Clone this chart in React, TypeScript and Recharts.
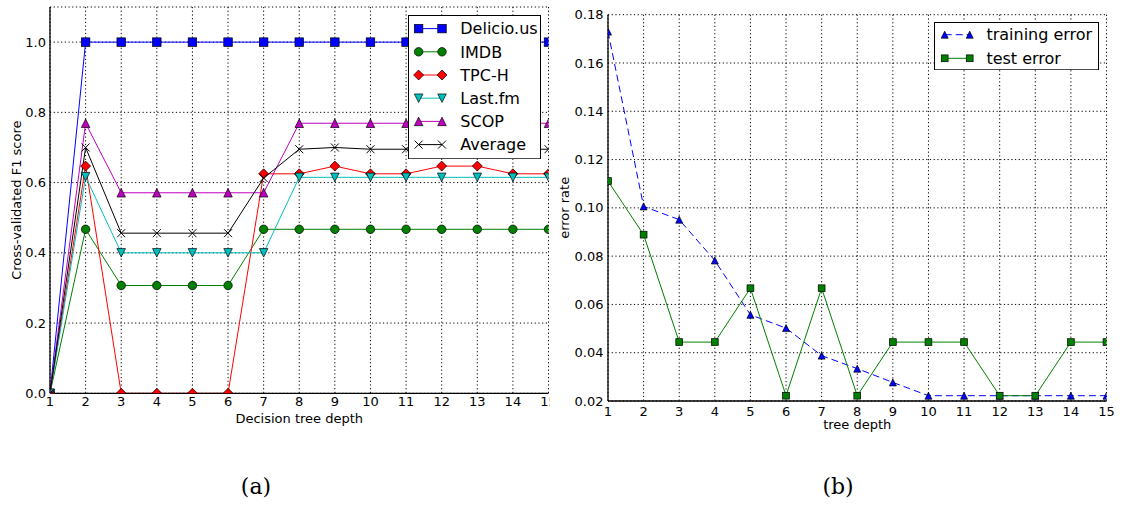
import React from 'react';
import { LineChart, Line, XAxis, YAxis, CartesianGrid, Legend } from 'recharts';

// ---------- data: left panel (a) ----------
const depths = [1, 2, 3, 4, 5, 6, 7, 8, 9, 10, 11, 12, 13, 14, 15];
const delicious = [0, 1, 1, 1, 1, 1, 1, 1, 1, 1, 1, 1, 1, 1, 1];
const imdb = [0, 0.467, 0.307, 0.307, 0.307, 0.307, 0.467, 0.467, 0.467, 0.467, 0.467, 0.467, 0.467, 0.467, 0.467];
const tpch = [0, 0.647, 0, 0, 0, 0, 0.625, 0.625, 0.647, 0.625, 0.625, 0.647, 0.647, 0.625, 0.625];
const lastfm = [0, 0.617, 0.4, 0.4, 0.4, 0.4, 0.4, 0.615, 0.615, 0.615, 0.615, 0.615, 0.615, 0.615, 0.615];
const scop = [0, 0.769, 0.571, 0.571, 0.571, 0.571, 0.571, 0.769, 0.769, 0.769, 0.769, 0.769, 0.769, 0.769, 0.769];
const average = [0, 0.7, 0.456, 0.456, 0.456, 0.456, 0.613, 0.695, 0.7, 0.695, 0.695, 0.7, 0.7, 0.695, 0.695];
const leftYTicks = [0, 0.2, 0.4, 0.6, 0.8, 1.0];

// ---------- data: right panel (b) ----------
const trainingError = [0.173, 0.1006, 0.0951, 0.0782, 0.0557, 0.0502, 0.0388, 0.0334, 0.0277, 0.0222, 0.0222, 0.0222, 0.0222, 0.0222, 0.0222];
const testError = [0.1111, 0.0889, 0.0444, 0.0444, 0.0667, 0.0222, 0.0667, 0.0222, 0.0444, 0.0444, 0.0444, 0.0222, 0.0222, 0.0444, 0.0444];
const rightYTicks = [0.02, 0.04, 0.06, 0.08, 0.1, 0.12, 0.14, 0.16, 0.18];

const leftData = depths.map((d, i) => ({
  depth: d,
  delicious: delicious[i],
  imdb: imdb[i],
  tpch: tpch[i],
  lastfm: lastfm[i],
  scop: scop[i],
  average: average[i],
}));
const rightData = depths.map((d, i) => ({ depth: d, train: trainingError[i], test: testError[i] }));

type Shape = 'square' | 'circle' | 'diamond' | 'triUp' | 'triDown' | 'x';

const FONT = '"DejaVu Sans", sans-serif';

function Marker({ shape, cx, cy, s, fill }: { shape: Shape; cx: number; cy: number; s: number; fill: string }) {
  const h = s / 2;
  const sw = 0.7;
  switch (shape) {
    case 'square':
      return <rect x={cx - h} y={cy - h} width={s} height={s} fill={fill} stroke="#000" strokeWidth={sw} />;
    case 'circle':
      return <circle cx={cx} cy={cy} r={h} fill={fill} stroke="#000" strokeWidth={sw} />;
    case 'diamond':
      return (
        <polygon
          points={`${cx},${cy - h} ${cx + h},${cy} ${cx},${cy + h} ${cx - h},${cy}`}
          fill={fill}
          stroke="#000"
          strokeWidth={sw}
        />
      );
    case 'triUp':
      return (
        <polygon
          points={`${cx},${cy - h} ${cx + h},${cy + h} ${cx - h},${cy + h}`}
          fill={fill}
          stroke="#000"
          strokeWidth={sw}
        />
      );
    case 'triDown':
      return (
        <polygon
          points={`${cx},${cy + h} ${cx + h},${cy - h} ${cx - h},${cy - h}`}
          fill={fill}
          stroke="#000"
          strokeWidth={sw}
        />
      );
    case 'x':
    default:
      return (
        <g stroke={fill} strokeWidth={1}>
          <line x1={cx - h} y1={cy - h} x2={cx + h} y2={cy + h} />
          <line x1={cx - h} y1={cy + h} x2={cx + h} y2={cy - h} />
        </g>
      );
  }
}

const leftSeries: { key: string; name: string; color: string; shape: Shape; size: number }[] = [
  { key: 'delicious', name: 'Delicio.us', color: '#0000ff', shape: 'square', size: 8.5 },
  { key: 'imdb', name: 'IMDB', color: '#008000', shape: 'circle', size: 8.5 },
  { key: 'tpch', name: 'TPC-H', color: '#ff0000', shape: 'diamond', size: 10 },
  { key: 'lastfm', name: 'Last.fm', color: '#00bfbf', shape: 'triDown', size: 8.5 },
  { key: 'scop', name: 'SCOP', color: '#bf00bf', shape: 'triUp', size: 8.5 },
  { key: 'average', name: 'Average', color: '#000000', shape: 'x', size: 8 },
];

const rightSeries: { key: string; name: string; color: string; shape: Shape; size: number; dash?: string }[] = [
  { key: 'train', name: 'training error', color: '#0000ff', shape: 'triUp', size: 7, dash: '7 4' },
  { key: 'test', name: 'test error', color: '#008000', shape: 'square', size: 6.8 },
];

const tickStyle = { fontSize: 13, fill: '#000', fontFamily: FONT };

function LeftLegend() {
  const w = 133;
  const h = 144.3;
  return (
    <svg width={w} height={h} style={{ display: 'block' }}>
      <rect x={0.5} y={0.5} width={w - 1} height={h - 1} fill="#fff" stroke="#000" strokeWidth={1} />
      {leftSeries.map((s, i) => {
        const y = 13.6 + 23.2 * i;
        return (
          <g key={s.key}>
            <line x1={10.6} y1={y} x2={34} y2={y} stroke={s.color} strokeWidth={1} />
            <Marker shape={s.shape} cx={10.6} cy={y} s={s.size} fill={s.color} />
            <Marker shape={s.shape} cx={34} cy={y} s={s.size} fill={s.color} />
            <text x={52.3} y={y} dy="0.36em" fontSize={16} fontFamily={FONT} fill="#000">
              {s.name}
            </text>
          </g>
        );
      })}
    </svg>
  );
}

function RightLegend() {
  const w = 165;
  const h = 48.3;
  return (
    <svg width={w} height={h} style={{ display: 'block' }}>
      <rect x={0.5} y={0.5} width={w - 1} height={h - 1} fill="#fff" stroke="#000" strokeWidth={1} />
      {rightSeries.map((s, i) => {
        const y = 12.7 + 23.6 * i;
        return (
          <g key={s.key}>
            <line x1={10.7} y1={y} x2={35.7} y2={y} stroke={s.color} strokeWidth={1} strokeDasharray={s.dash} />
            <Marker shape={s.shape} cx={10.7} cy={y} s={s.size} fill={s.color} />
            <Marker shape={s.shape} cx={35.7} cy={y} s={s.size} fill={s.color} />
            <text x={52.4} y={y} dy="0.36em" fontSize={16} fontFamily={FONT} fill="#000">
              {s.name}
            </text>
          </g>
        );
      })}
    </svg>
  );
}

const makeDot = (shape: Shape, size: number, color: string) => (p: any) => {
  if (p.cx == null || p.cy == null) return <g key={`e-${p.index}`} />;
  return (
    <g key={`d-${p.index}`}>
      <Marker shape={shape} cx={p.cx} cy={p.cy} s={size} fill={color} />
    </g>
  );
};

const gridProps = { stroke: '#000', strokeWidth: 1, strokeDasharray: '1.2 2.5' };

export default function App() {
  return (
    <div style={{ position: 'absolute', left: 0, top: 0, width: 1123, height: 505, background: '#fff' }}>
      {/* Panel (a) */}
      <div style={{ position: 'absolute', left: 0, top: 0 }}>
        <LineChart
          width={550}
          height={440}
          data={leftData}
          margin={{ top: 7, right: 1.5, left: 0, bottom: 16.7 }}
        >
          <CartesianGrid {...gridProps} />
          <XAxis
            dataKey="depth"
            type="number"
            domain={[1, 15]}
            ticks={depths}
            allowDataOverflow
            interval={0}
            height={30}
            tickLine={false}
            tickSize={2}
            tickMargin={1.5}
            axisLine={{ stroke: '#000', strokeWidth: 1.3 }}
            tick={tickStyle}
            label={{ value: 'Decision tree depth', position: 'insideBottom', offset: 0, style: { fontSize: 13, fill: '#000', fontFamily: FONT } }}
          />
          <XAxis
            xAxisId="top"
            orientation="top"
            dataKey="depth"
            type="number"
            domain={[1, 15]}
            height={0}
            tick={false}
            tickLine={false}
            axisLine={{ stroke: '#000', strokeWidth: 1.3 }}
          />
          <YAxis
            type="number"
            domain={[0, 1.1]}
            ticks={leftYTicks}
            allowDataOverflow
            interval={0}
            width={50}
            tickLine={false}
            tickSize={2}
            tickMargin={2}
            axisLine={{ stroke: '#000', strokeWidth: 1.3 }}
            tick={tickStyle}
            tickFormatter={(v: number) => v.toFixed(1)}
            label={{
              value: 'Cross-validated F1 score',
              angle: -90,
              position: 'insideLeft',
              offset: 16,
              style: { fontSize: 13, fill: '#000', fontFamily: FONT, textAnchor: 'middle' },
            }}
          />
          <YAxis
            yAxisId="right"
            orientation="right"
            type="number"
            domain={[0, 1.1]}
            width={0}
            tick={false}
            tickLine={false}
            axisLine={{ stroke: '#000', strokeWidth: 1.3 }}
          />
          {leftSeries.map((s) => (
            <Line
              key={s.key}
              dataKey={s.key}
              name={s.name}
              type="linear"
              stroke={s.color}
              strokeWidth={1}
              dot={makeDot(s.shape, s.size, s.color)}
              activeDot={false}
              isAnimationActive={false}
            />
          ))}
          <Legend
            layout="vertical"
            align="center"
            verticalAlign="middle"
            content={() => <LeftLegend />}
            wrapperStyle={{ left: 407.7, top: 14.7, width: 133, height: 144.3 }}
          />
        </LineChart>
      </div>

      {/* Panel (b) */}
      <div style={{ position: 'absolute', left: 550, top: 0 }}>
        <LineChart
          width={573}
          height={445}
          data={rightData}
          margin={{ top: 14.7, right: 16.5, left: 0, bottom: 14 }}
        >
          <CartesianGrid {...gridProps} />
          <XAxis
            dataKey="depth"
            type="number"
            domain={[1, 15]}
            ticks={depths}
            allowDataOverflow
            interval={0}
            height={30}
            tickLine={false}
            tickSize={3}
            tickMargin={3}
            axisLine={{ stroke: '#000', strokeWidth: 1.3 }}
            tick={tickStyle}
            label={{ value: 'tree depth', position: 'insideBottom', offset: 2, style: { fontSize: 13, fill: '#000', fontFamily: FONT } }}
          />
          <XAxis
            xAxisId="top"
            orientation="top"
            dataKey="depth"
            type="number"
            domain={[1, 15]}
            height={0}
            tick={false}
            tickLine={false}
            axisLine={{ stroke: '#000', strokeWidth: 1.3 }}
          />
          <YAxis
            type="number"
            domain={[0.02, 0.18]}
            ticks={rightYTicks}
            allowDataOverflow
            interval={0}
            width={58}
            tickLine={false}
            tickSize={2}
            tickMargin={2.5}
            axisLine={{ stroke: '#000', strokeWidth: 1.3 }}
            tick={tickStyle}
            tickFormatter={(v: number) => v.toFixed(2)}
            label={{
              value: 'error rate',
              angle: -90,
              position: 'insideLeft',
              offset: 14,
              style: { fontSize: 13, fill: '#000', fontFamily: FONT, textAnchor: 'middle' },
            }}
          />
          <YAxis
            yAxisId="right"
            orientation="right"
            type="number"
            domain={[0.02, 0.18]}
            width={0}
            tick={false}
            tickLine={false}
            axisLine={{ stroke: '#000', strokeWidth: 1.3 }}
          />
          {rightSeries.map((s) => (
            <Line
              key={s.key}
              dataKey={s.key}
              name={s.name}
              type="linear"
              stroke={s.color}
              strokeWidth={1}
              strokeDasharray={s.dash}
              dot={makeDot(s.shape, s.size, s.color)}
              activeDot={false}
              isAnimationActive={false}
            />
          ))}
          <Legend
            layout="vertical"
            align="center"
            verticalAlign="middle"
            content={() => <RightLegend />}
            wrapperStyle={{ left: 384.3, top: 22, width: 165, height: 48.3 }}
          />
        </LineChart>
      </div>

      <div
        style={{
          position: 'absolute',
          left: 206,
          width: 100,
          top: 474,
          textAlign: 'center',
          fontFamily: '"DejaVu Serif", serif',
          fontSize: 22,
          lineHeight: '26px',
          color: '#000',
        }}
      >
        (a)
      </div>
      <div
        style={{
          position: 'absolute',
          left: 788,
          width: 100,
          top: 474,
          textAlign: 'center',
          fontFamily: '"DejaVu Serif", serif',
          fontSize: 22,
          lineHeight: '26px',
          color: '#000',
        }}
      >
        (b)
      </div>
    </div>
  );
}
